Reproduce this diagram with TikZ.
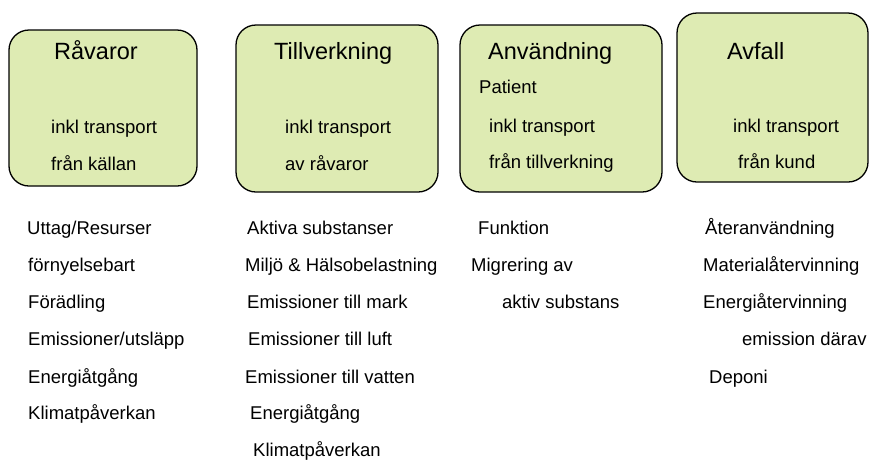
\documentclass[tikz,border=0pt]{standalone}
\usepackage{fontspec}
\setmainfont{Liberation Sans}
\definecolor{boxgreen}{HTML}{DEEBB3}
\begin{document}
\begin{tikzpicture}[x=1pt,y=-1pt,
  stagebox/.style={draw=black,line width=1.3pt,fill=boxgreen,rounded corners=20pt,inner sep=0pt},
  title/.style={anchor=base west,inner sep=0pt,font=\fontsize{23.5}{28}\selectfont},
  txt/.style={anchor=base west,inner sep=0pt,font=\fontsize{18.5}{22}\selectfont}]
\useasboundingbox (0,0) rectangle (870,459);
% boxes
\draw[stagebox] (9,30) rectangle (197,186);
\draw[stagebox] (236,25) rectangle (438,192);
\draw[stagebox] (460,25) rectangle (662,192);
\draw[stagebox] (677,13) rectangle (868,182);
% box 1
\node[title] (t1) at (54,59) {Råvaror};
\node[txt] (b1a) at (51,133) {inkl transport};
\node[txt] (b1b) at (51,170) {från källan};
% box 2
\node[title] (t2) at (274,59) {Tillverkning};
\node[txt] (b2a) at (285,133) {inkl transport};
\node[txt] (b2b) at (285,170) {av råvaror};
% box 3
\node[title] (t3) at (488,59) {Användning};
\node[txt] (b3p) at (479,93) {Patient};
\node[txt] (b3a) at (489,132) {inkl transport};
\node[txt] (b3b) at (489,168) {från tillverkning};
% box 4
\node[title] (t4) at (727,59) {Avfall};
\node[txt] (b4a) at (733,132) {inkl transport};
\node[txt] (b4b) at (738,168) {från kund};
% column 1
\node[txt] (c1r1) at (27,234) {Uttag/Resurser};
\node[txt] (c1r2) at (28,271) {förnyelsebart};
\node[txt] (c1r3) at (28,308) {Förädling};
\node[txt] (c1r4) at (28,345) {Emissioner/utsläpp};
\node[txt] (c1r5) at (28,383) {Energiåtgång};
\node[txt] (c1r6) at (28,419) {Klimatpåverkan};
% column 2
\node[txt] (c2r1) at (247,234) {Aktiva substanser};
\node[txt] (c2r2) at (245,271) {Miljö \& Hälsobelastning};
\node[txt] (c2r3) at (247,308) {Emissioner till mark};
\node[txt] (c2r4) at (248,345) {Emissioner till luft};
\node[txt] (c2r5) at (245,383) {Emissioner till vatten};
\node[txt] (c2r6) at (250,419) {Energiåtgång};
\node[txt] (c2r7) at (253,456) {Klimatpåverkan};
% column 3
\node[txt] (c3r1) at (478,234) {Funktion};
\node[txt] (c3r2) at (471,271) {Migrering av};
\node[txt] (c3r3) at (502,308) {aktiv substans};
% column 4
\node[txt] (c4r1) at (705,234) {Återanvändning};
\node[txt] (c4r2) at (703,271) {Materialåtervinning};
\node[txt] (c4r3) at (703,308) {Energiåtervinning};
\node[txt] (c4r4) at (742,345) {emission därav};
\node[txt] (c4r5) at (709,383) {Deponi};
\end{tikzpicture}
\end{document}
